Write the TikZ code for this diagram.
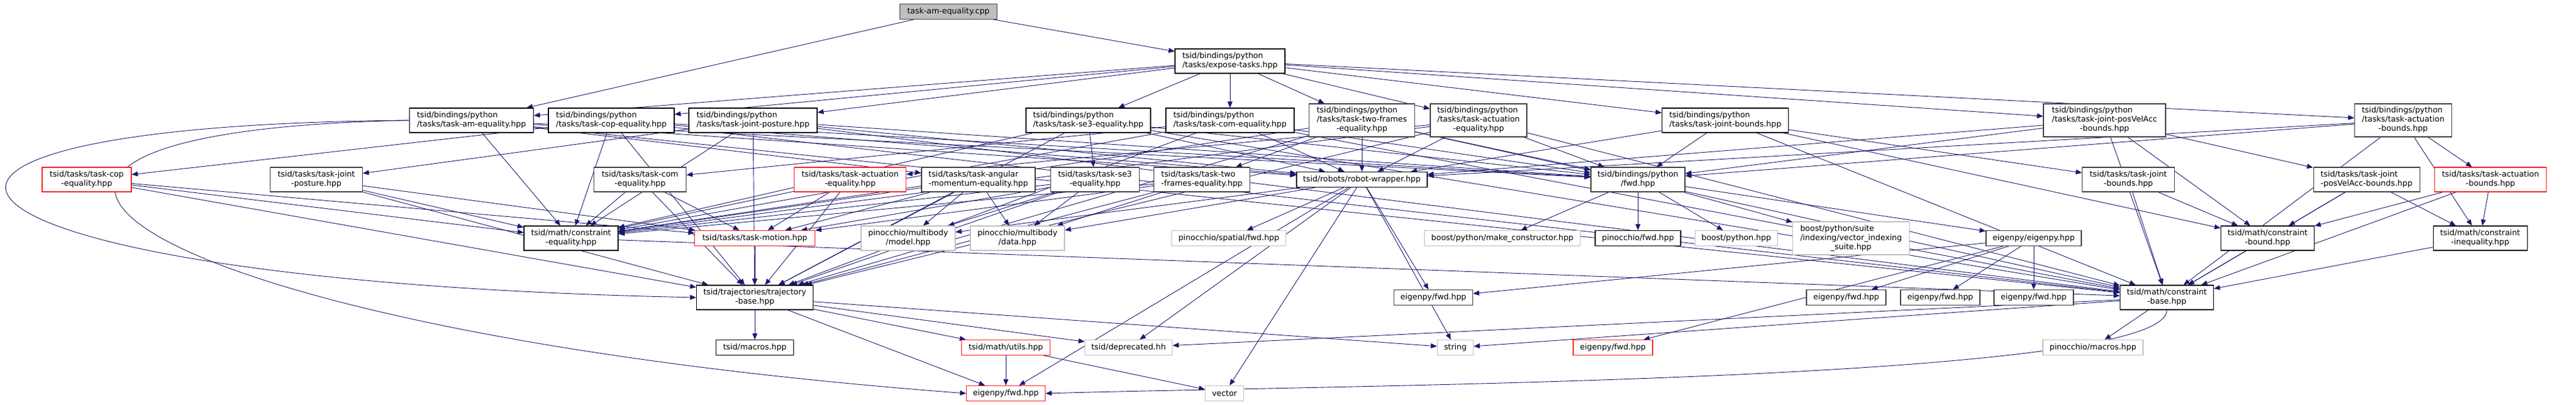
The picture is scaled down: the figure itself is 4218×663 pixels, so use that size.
\documentclass[tikz,border=0pt]{standalone}
\usepackage{fontspec}
\setmainfont{DejaVu Sans}
\usetikzlibrary{arrows.meta}
\definecolor{edgeblue}{HTML}{191970}
\definecolor{extgray}{HTML}{BFBFBF}
\definecolor{hdrgray}{HTML}{404040}
\definecolor{truncred}{HTML}{FF2020}
\definecolor{rootgray}{HTML}{BFBFBF}
\pgfdeclarelayer{bg}
\pgfsetlayers{bg,main}
\newcommand{\hlab}[2]{\begin{tabular}{@{}l@{}}#1\\\multicolumn{1}{@{}c@{}}{#2}\end{tabular}}
\tikzset{
	hdr/.style={draw=black,fill=white,line width=1.1pt,inner sep=0pt,minimum height=40,font=\fontsize{12.9}{15}\selectfont},
	one/.style={minimum height=25},
	three/.style={minimum height=54},
	extfile/.style={draw=extgray},
	redfile/.style={draw=truncred},
	greyfile/.style={draw=hdrgray},
	incl/.style={draw=edgeblue,line width=0.9pt,-{Triangle[length=10pt,width=8pt]}}
}
\begin{document}
\begin{tikzpicture}[x=1pt,y=-1pt]
	\useasboundingbox(0,0)rectangle(4218,663);
	\node[hdr,one,fill=rootgray,greyfile,minimum width=159](root)at(1553,19){task-am-equality.cpp};
	\node[hdr,minimum width=180](expose)at(2014,100){\hlab{tsid/bindings/python}{/tasks/expose-tasks.hpp}};
	\node[hdr,minimum width=203](pyam)at(772,197){\hlab{tsid/bindings/python}{/tasks/task-am-equality.hpp}};
	\node[hdr,minimum width=206](pycop)at(1001,197){\hlab{tsid/bindings/python}{/tasks/task-cop-equality.hpp}};
	\node[hdr,minimum width=210](pyjpost)at(1233,197){\hlab{tsid/bindings/python}{/tasks/task-joint-posture.hpp}};
	\node[hdr,minimum width=204](pyse3)at(1782,197){\hlab{tsid/bindings/python}{/tasks/task-se3-equality.hpp}};
	\node[hdr,minimum width=210](pycom)at(2014,197){\hlab{tsid/bindings/python}{/tasks/task-com-equality.hpp}};
	\node[hdr,three,greyfile,minimum width=173](pytwof)at(2230,197){\hlab{tsid/bindings/python\\/tasks/task-two-frames}{-equality.hpp}};
	\node[hdr,three,greyfile,minimum width=158](pyactueq)at(2421,197){\hlab{tsid/bindings/python\\/tasks/task-actuation}{-equality.hpp}};
	\node[hdr,minimum width=207](pyjbounds)at(2825,197){\hlab{tsid/bindings/python}{/tasks/task-joint-bounds.hpp}};
	\node[hdr,three,greyfile,minimum width=200](pyposvel)at(3446,197){\hlab{tsid/bindings/python\\/tasks/task-joint-posVelAcc}{-bounds.hpp}};
	\node[hdr,three,greyfile,minimum width=159](pyactbounds)at(3935,197){\hlab{tsid/bindings/python\\/tasks/task-actuation}{-bounds.hpp}};
	\node[hdr,redfile,minimum width=146](copeq)at(142,294){\hlab{tsid/tasks/task-cop}{-equality.hpp}};
	\node[hdr,greyfile,minimum width=151](jposture)at(518,294){\hlab{tsid/tasks/task-joint}{-posture.hpp}};
	\node[hdr,greyfile,minimum width=151](comeq)at(1048,294){\hlab{tsid/tasks/task-com}{-equality.hpp}};
	\node[hdr,redfile,minimum width=183](actueq)at(1392,294){\hlab{tsid/tasks/task-actuation}{-equality.hpp}};
	\node[hdr,greyfile,minimum width=186](angular)at(1602,294){\hlab{tsid/tasks/task-angular}{-momentum-equality.hpp}};
	\node[hdr,greyfile,minimum width=145](se3)at(1793,294){\hlab{tsid/tasks/task-se3}{-equality.hpp}};
	\node[hdr,greyfile,minimum width=157](twof)at(1968,294){\hlab{tsid/tasks/task-two}{-frames-equality.hpp}};
	\node[hdr,one,minimum width=214](robot)at(2230,294){tsid/robots/robot-wrapper.hpp};
	\node[hdr,greyfile,minimum width=154](pyfwd)at(2682,294){\hlab{tsid/bindings/python}{/fwd.hpp}};
	\node[hdr,greyfile,minimum width=151](jbounds)at(3485,294){\hlab{tsid/tasks/task-joint}{-bounds.hpp}};
	\node[hdr,greyfile,minimum width=174](jposvel)at(3875,294){\hlab{tsid/tasks/task-joint}{-posVelAcc-bounds.hpp}};
	\node[hdr,redfile,minimum width=183](actbounds)at(4078,294){\hlab{tsid/tasks/task-actuation}{-bounds.hpp}};
	\node[hdr,minimum width=154](ceq)at(935,390){\hlab{tsid/math/constraint}{-equality.hpp}};
	\node[hdr,one,redfile,minimum width=197](motion)at(1236,390){tsid/tasks/task-motion.hpp};
	\node[hdr,extfile,minimum width=154](model)at(1487,390){\hlab{pinocchio/multibody}{/model.hpp}};
	\node[hdr,extfile,minimum width=154](data)at(1666,390){\hlab{pinocchio/multibody}{/data.hpp}};
	\node[hdr,one,extfile,minimum width=187](spatial)at(2012,390){pinocchio/spatial/fwd.hpp};
	\node[hdr,one,extfile,minimum width=255](mkctor)at(2460,390){boost/python/make\_constructor.hpp};
	\node[hdr,one,minimum width=140](pinfwd)at(2682,390){pinocchio/fwd.hpp};
	\node[hdr,one,extfile,minimum width=135](bpython)at(2843,390){boost/python.hpp};
	\node[hdr,three,extfile,minimum width=191](vecidx)at(3031,390){\hlab{boost/python/suite\\/indexing/vector\_indexing}{\_suite.hpp}};
	\node[hdr,one,greyfile,minimum width=156](eigenpy)at(3330,390){eigenpy/eigenpy.hpp};
	\node[hdr,minimum width=153](cbound)at(3713,390){\hlab{tsid/math/constraint}{-bound.hpp}};
	\node[hdr,minimum width=154](cineq)at(4061,390){\hlab{tsid/math/constraint}{-inequality.hpp}};
	\node[hdr,minimum width=191](traj)at(1236,487){\hlab{tsid/trajectories/trajectory}{-base.hpp}};
	\node[hdr,one,greyfile,minimum width=129](eigfwdb)at(2347,487){eigenpy/fwd.hpp};
	\node[hdr,one,greyfile,minimum width=130](eigfwdd)at(3023,487){eigenpy/fwd.hpp};
	\node[hdr,one,greyfile,minimum width=130](eigfwde)at(3177,487){eigenpy/fwd.hpp};
	\node[hdr,one,greyfile,minimum width=130](eigfwdf)at(3330,487){eigenpy/fwd.hpp};
	\node[hdr,minimum width=153](cbase)at(3548,487){\hlab{tsid/math/constraint}{-base.hpp}};
	\node[hdr,one,minimum width=127](macros)at(1236,569){tsid/macros.hpp};
	\node[hdr,one,redfile,minimum width=145](utils)at(1647,569){tsid/math/utils.hpp};
	\node[hdr,one,extfile,minimum width=143](deprecated)at(1848,569){tsid/deprecated.hh};
	\node[hdr,one,extfile,minimum width=59](string)at(2383,569){string};
	\node[hdr,one,redfile,minimum width=130](eigfwdc)at(2641,569){eigenpy/fwd.hpp};
	\node[hdr,one,extfile,minimum width=164](pmacros)at(3427,569){pinocchio/macros.hpp};
	\node[hdr,one,redfile,minimum width=129](eigfwda)at(1647,644){eigenpy/fwd.hpp};
	\node[hdr,one,extfile,minimum width=63](vector)at(2005,644){vector};
	\begin{pgfonlayer}{bg}
		\foreach \s/\l in {root/{pyam,expose},
				expose/{pyam,pycop,pyjpost,pyse3,pycom,pytwof,pyactueq,pyjbounds,pyposvel,pyactbounds},
				pyam/{angular,robot,pyfwd,ceq,cbase},
				pycop/{copeq,robot,pyfwd,ceq,traj,cbase},
				pyjpost/{jposture,robot,pyfwd,ceq,traj,cbase},
				pyse3/{se3,robot,pyfwd,ceq,traj,cbase},
				pycom/{comeq,robot,pyfwd,ceq,traj,cbase},
				pytwof/{twof,robot,pyfwd,ceq,traj,cbase},
				pyactueq/{actueq,robot,pyfwd,ceq,traj,cbase},
				pyjbounds/{jbounds,robot,pyfwd,cbound,cbase},
				pyposvel/{jposvel,robot,pyfwd,cbound,cbase},
				pyactbounds/{actbounds,robot,pyfwd,cineq,cbase},
				copeq/{ceq,motion,traj},
				jposture/{ceq,motion,traj},
				comeq/{ceq,motion,traj},
				actueq/{ceq,motion,traj},
				angular/{ceq,motion,traj,model,data},
				se3/{ceq,motion,traj,model,data},
				twof/{ceq,motion,traj,data},
				jbounds/{cbound,cbase},
				jposvel/{cbound,cineq,cbase},
				actbounds/{cineq,cbound,cbase},
				robot/{model,data,spatial,deprecated,string,eigfwdb,vector,eigfwda},
				pyfwd/{mkctor,pinfwd,bpython,vecidx,eigenpy},
				eigenpy/{eigfwdd,eigfwde,eigfwdf,eigfwdc,eigfwdb},
				motion/{traj},
				ceq/{cbase},
				cbound/{cbase},
				cineq/{cbase},
				traj/{macros,utils,deprecated,eigfwda,string},
				utils/{eigfwda,vector},
				cbase/{pmacros,deprecated,string}}
			\foreach \t in \l
				\draw[incl](\s)--(\t);
		\draw[incl](pyam.west)..controls(-360,205)and(-170,460)..(traj.west);
		\draw[incl](pyam.west)..controls(-250,215)and(200,540)..(eigfwda.west);
		\draw[incl](cbase.south)..controls(3548,625)and(2200,630)..(eigfwda.east);
	\end{pgfonlayer}
\end{tikzpicture}
\end{document}
